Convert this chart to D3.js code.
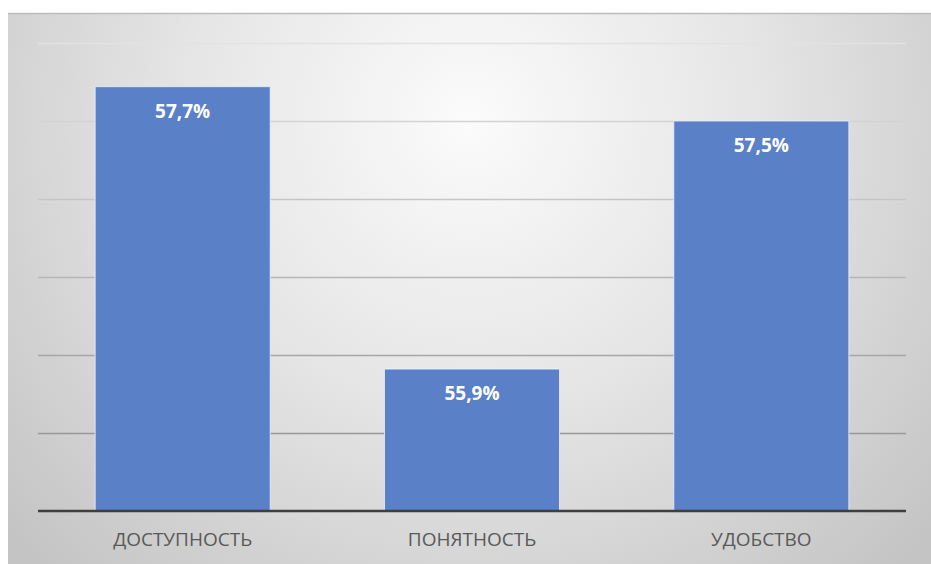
<!DOCTYPE html>
<html><head><meta charset="utf-8">
<script src="https://cdn.jsdelivr.net/npm/d3@7/dist/d3.min.js"></script>
<style>html,body{margin:0;padding:0;background:#fff;}svg{display:block;}</style>
</head><body>
<svg id="c" width="931" height="564"></svg>
<script>
const categories = ["ДОСТУПНОСТЬ", "ПОНЯТНОСТЬ", "УДОБСТВО"];
const values = [57.72, 55.91, 57.5];
const valueLabels = ["57,7%", "55,9%", "57,5%"];
const yTicks = [55, 55.5, 56, 56.5, 57, 57.5, 58];

const svg = d3.select("#c");
const defs = svg.append("defs");
const rg = defs.append("radialGradient").attr("id","bg")
  .attr("gradientUnits","userSpaceOnUse").attr("cx",470).attr("cy",120).attr("r",620)
  .attr("fx",470).attr("fy",120);
rg.append("stop").attr("offset","0%").attr("stop-color","#fbfbfb");
rg.append("stop").attr("offset","45%").attr("stop-color","#e6e6e6");
rg.append("stop").attr("offset","100%").attr("stop-color","#c4c4c4");

svg.append("rect").attr("x",8).attr("y",13).attr("width",923).attr("height",551).attr("fill","url(#bg)");
svg.append("line").attr("x1",8).attr("x2",931).attr("y1",13.5).attr("y2",13.5).attr("stroke","#bdbdbd").attr("stroke-width",1.5);

const m = {left:38, right:906, top:43, bottom:511};
const x = d3.scaleBand().domain(categories).range([m.left, m.right]).paddingInner(0.395).paddingOuter(0.1975);
const y = d3.scaleLinear().domain([55, 58]).range([m.bottom, m.top]);

const gridCol = d3.scaleLinear().domain([58, 55]).range(["#e2e2e2", "#8a8a8a"]);
svg.append("g").selectAll("line").data(yTicks.filter(t => t > 55)).join("line")
  .attr("x1", m.left).attr("x2", m.right)
  .attr("y1", d => Math.round(y(d)) + 0.5).attr("y2", d => Math.round(y(d)) + 0.5)
  .attr("stroke", d => gridCol(d)).attr("stroke-width", 1.5);

const data = categories.map((c,i) => ({c, v: values[i], l: valueLabels[i]}));
svg.append("g").selectAll("rect").data(data).join("rect")
  .attr("x", d => x(d.c)).attr("width", x.bandwidth())
  .attr("y", d => y(d.v)).attr("height", d => y(55) - y(d.v))
  .attr("fill", "#5a80c8").attr("stroke", "rgba(235,242,255,0.8)").attr("stroke-width", 1);

svg.append("line").attr("x1", m.left).attr("x2", m.right).attr("y1", y(55)).attr("y2", y(55))
  .attr("stroke", "#3f3f3f").attr("stroke-width", 2.5);

svg.append("g").selectAll("text").data(data).join("text")
  .attr("x", d => x(d.c) + x.bandwidth()/2).attr("y", d => y(d.v) + 26)
  .attr("text-anchor","middle").attr("dominant-baseline","middle")
  .attr("font-family","'Open Sans', sans-serif").attr("font-weight","bold").attr("font-size",19)
  .attr("fill","#ffffff").text(d => d.l);

svg.append("g").selectAll("text").data(categories).join("text")
  .attr("x", d => x(d) + x.bandwidth()/2).attr("y", 541)
  .attr("text-anchor","middle").attr("dominant-baseline","middle")
  .attr("font-family","'Open Sans', sans-serif").attr("font-size",19)
  .attr("fill","#595959").text(d => d);
</script>
</body></html>
